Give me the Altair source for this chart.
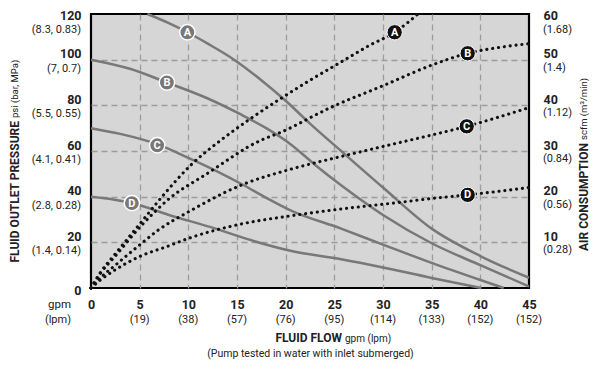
import altair as alt
import pandas as pd

FONT = "Roboto, Liberation Sans, sans-serif"
TXT = "#222222"

# ---- axis ticks / labels ----
flow_ticks = [0, 5, 10, 15, 20, 25, 30, 35, 40, 45]
flow_sub_vals = [5, 10, 15, 20, 25, 30, 35, 40, 45]
flow_sub_txt = ["(19)", "(38)", "(57)", "(76)", "(95)", "(114)", "(133)", "(152)", "(152)"]
psi_ticks = [0, 20, 40, 60, 80, 100, 120]
psi_sub_vals = [20, 40, 60, 80, 100, 120]
psi_sub_txt = ["(1.4, 0.14)", "(2.8, 0.28)", "(4.1, 0.41)", "(5.5, 0.55)", "(7, 0.7)", "(8.3, 0.83)"]
scfm_ticks = [10, 20, 30, 40, 50, 60]
scfm_sub_txt = ["(0.28)", "(0.56)", "(0.84)", "(1.12)", "(1.4)", "(1.68)"]

# ---- fluid outlet pressure curves (psi vs gpm) ----
pA_gpm = [5.8, 8, 9.9, 12, 14.7, 17.5, 20, 22.5, 25.7, 30, 35, 40, 45]
pA_psi = [120, 116, 112, 107, 100, 91, 82, 72, 60, 44, 26, 14, 4.5]
pB_gpm = [0, 4, 7.8, 12, 15.4, 18, 20.5, 23, 25.7, 30, 35, 40, 45]
pB_psi = [100, 96, 90, 83, 76, 70, 63, 54, 45, 32, 19.6, 10, 0.7]
pC_gpm = [0, 3, 6.8, 10, 13, 15.7, 18, 20.5, 25.7, 30, 35, 40, 42.4]
pC_psi = [70, 67.5, 63, 57, 51, 45, 39.5, 34, 26, 19, 11, 3.5, 0]
pD_gpm = [0, 2, 4.2, 8, 12.8, 16, 20.5, 25.7, 30, 35, 40.1]
pD_psi = [40, 39, 37.2, 32, 26, 21.5, 16.3, 12.6, 9, 4.4, 0]

# ---- air consumption curves (scfm vs gpm) ----
aA_gpm = [0, 1, 2.5, 5, 7.5, 10.2, 13.3, 16, 19.5, 22.5, 25.7, 28.5, 31.2, 33.6]
aA_scfm = [0, 3.5, 7.5, 14, 20.5, 26.8, 32.3, 36.5, 41.5, 45.5, 49.5, 53, 56, 60]
aB_gpm = [0, 1, 2.5, 5.1, 8, 11.9, 17.4, 19.5, 24.7, 30, 35, 38.7, 42, 45]
aB_scfm = [0, 3.3, 7, 13.5, 19.5, 25, 32.3, 34.1, 39.6, 44.3, 48.8, 51.4, 52.7, 53.5]
aC_gpm = [0, 1, 2.5, 5.1, 6.8, 10.2, 15.4, 20.5, 25.7, 30, 35, 38.6, 42, 45]
aC_scfm = [0, 2.3, 5, 9.6, 12.5, 16.9, 22.5, 26, 28.8, 31, 33.5, 35.4, 37.5, 39.5]
aD_gpm = [0, 1, 2.5, 5.1, 7.7, 10.2, 15.4, 20.5, 25.7, 31.5, 35, 38.7, 42, 45]
aD_scfm = [0, 1.8, 4, 7, 9, 11, 14, 15.8, 17.3, 18.7, 19.6, 20.4, 21.2, 22]

curve_names = ["A", "B", "C", "D"]
press_lab_gpm = [9.9, 7.8, 6.8, 4.2]
press_lab_psi = [112, 90, 62.5, 37.2]
air_lab_gpm = [31.2, 38.7, 38.6, 38.7]
air_lab_scfm = [56, 51.4, 35.4, 20.4]

left_title_bold = "FLUID OUTLET PRESSURE"
left_title_light = "psi (bar, MPa)"
right_title_bold = "AIR CONSUMPTION"
right_title_light = "scfm (m\u00b3/min)"
bottom_title_bold = "FLUID FLOW"
bottom_title_light = "gpm (lpm)"
bottom_note = "(Pump tested in water with inlet submerged)"
unit_top = "gpm"
unit_bottom = "(lpm)"

W, H = 438, 274

# ---- tables ----
def long(names, xs, ys, yname):
    rows = []
    for n, xv, yv in zip(names, xs, ys):
        for a, b in zip(xv, yv):
            rows.append({"curve": n, "gpm": a, yname: b})
    return pd.DataFrame(rows)

press_df = long(curve_names, [pA_gpm, pB_gpm, pC_gpm, pD_gpm],
                [pA_psi, pB_psi, pC_psi, pD_psi], "psi")
air_df = long(curve_names, [aA_gpm, aB_gpm, aC_gpm, aD_gpm],
              [aA_scfm, aB_scfm, aC_scfm, aD_scfm], "scfm")
press_lab_df = pd.DataFrame({"curve": curve_names, "gpm": press_lab_gpm, "psi": press_lab_psi})
air_lab_df = pd.DataFrame({"curve": curve_names, "gpm": air_lab_gpm, "scfm": air_lab_scfm})
psi_sub_df = pd.DataFrame({"psi": psi_sub_vals, "t": psi_sub_txt})
scfm_sub_df = pd.DataFrame({"scfm": scfm_ticks, "t": scfm_sub_txt})
flow_sub_df = pd.DataFrame({"gpm": flow_sub_vals, "t": flow_sub_txt})

xscale = alt.Scale(domain=[0, 45], nice=False, zero=False)
yP = alt.Scale(domain=[0, 120], nice=False)
yA = alt.Scale(domain=[0, 60], nice=False)

GRID = dict(grid=True, gridColor="#9c9c9c", gridDash=[6, 4], gridWidth=1.3)
NUM = dict(labelFont=FONT, labelFontWeight="bold", labelFontSize=12.5, labelColor=TXT,
           labelFlush=False, labelOverlap=False)

x_axis = alt.Axis(
    values=flow_ticks, title=None, ticks=False, domain=False, **NUM,
    labelPadding=16, labelBaseline="middle",
    gridOpacity={"condition": {"test": "datum.value == 0 || datum.value == 45", "value": 0}, "value": 1},
    **GRID,
)
y_left_axis = alt.Axis(
    orient="left", values=psi_ticks, title=None, ticks=False, domain=False, **NUM,
    labelPadding=10, labelBaseline="alphabetic",
    labelOffset={"condition": [{"test": "datum.value == 0", "value": 6},
                               {"test": "datum.value == 120", "value": 5.5}], "value": -2},
    gridOpacity={"condition": {"test": "datum.value == 0 || datum.value == 120", "value": 0}, "value": 1},
    **GRID,
)
y_right_axis = alt.Axis(
    orient="right", values=scfm_ticks, title=None, ticks=False, domain=False, grid=False, **NUM,
    labelPadding=14, labelBaseline="alphabetic", labelAlign="left",
    labelOffset={"condition": {"test": "datum.value == 60", "value": 5.5}, "value": -2},
)

def X():
    return alt.X("gpm:Q", scale=xscale, axis=x_axis)

press_lines = alt.Chart(press_df).mark_line(
    color="#787878", strokeWidth=2.5, interpolate="monotone"
).encode(x=X(), y=alt.Y("psi:Q", scale=yP, axis=y_left_axis), detail="curve:N")

air_lines = alt.Chart(air_df).mark_line(
    color="#111111", strokeWidth=3.1, strokeDash=[0.1, 5.8], strokeCap="round", interpolate="monotone"
).encode(x=X(), y=alt.Y("scfm:Q", scale=yA, axis=y_right_axis), detail="curve:N")

press_dot = alt.Chart(press_lab_df).mark_circle(
    size=235, color="#787878", opacity=1, stroke="white", strokeWidth=1.5
).encode(x=X(), y=alt.Y("psi:Q", scale=yP, axis=None))
press_txt = alt.Chart(press_lab_df).mark_text(
    color="white", font=FONT, fontWeight="bold", fontSize=11, baseline="middle", dy=0.5
).encode(x=X(), y=alt.Y("psi:Q", scale=yP, axis=None), text="curve:N")

air_dot = alt.Chart(air_lab_df).mark_circle(
    size=235, color="#111111", opacity=1, stroke="white", strokeWidth=1
).encode(x=X(), y=alt.Y("scfm:Q", scale=yA, axis=None))
air_txt = alt.Chart(air_lab_df).mark_text(
    color="white", font=FONT, fontWeight="bold", fontSize=11, baseline="middle", dy=0.5
).encode(x=X(), y=alt.Y("scfm:Q", scale=yA, axis=None), text="curve:N")

psi_sub = alt.Chart(psi_sub_df).transform_filter("datum.psi < 120").mark_text(
    font=FONT, fontSize=11, color=TXT, align="right", baseline="middle", dy=9
).encode(x=alt.value(-10), y=alt.Y("psi:Q", scale=yP, axis=None), text="t:N")
psi_sub_top = alt.Chart(psi_sub_df).transform_filter("datum.psi == 120").mark_text(
    font=FONT, fontSize=11, color=TXT, align="right", baseline="middle", dy=15.5
).encode(x=alt.value(-10), y=alt.Y("psi:Q", scale=yP, axis=None), text="t:N")

scfm_sub = alt.Chart(scfm_sub_df).transform_filter("datum.scfm < 60").mark_text(
    font=FONT, fontSize=11, color=TXT, align="left", baseline="middle", dy=8
).encode(x=alt.value(W + 14), y=alt.Y("scfm:Q", scale=yA, axis=None), text="t:N")
scfm_sub_top = alt.Chart(scfm_sub_df).transform_filter("datum.scfm == 60").mark_text(
    font=FONT, fontSize=11, color=TXT, align="left", baseline="middle", dy=15.5
).encode(x=alt.value(W + 14), y=alt.Y("scfm:Q", scale=yA, axis=None), text="t:N")

flow_sub = alt.Chart(flow_sub_df).mark_text(
    font=FONT, fontSize=11, color=TXT, align="center", baseline="middle"
).encode(x=X(), y=alt.value(H + 31.5), text="t:N")


def label(txt, x, y, bold, align, angle=0, size=12):
    return alt.Chart(pd.DataFrame({"t": [txt]})).mark_text(
        font=FONT, fontSize=size, color=TXT, fontWeight="bold" if bold else "normal",
        align=align, baseline="middle", angle=angle,
    ).encode(x=alt.value(x), y=alt.value(y), text="t:N")

texts = [
    label(unit_top, -20, H + 16.5, False, "right", 0, 11.5),
    label(unit_bottom, -20, H + 31.5, False, "right", 0, 11),
    label(left_title_bold, -76, 107, True, "right", 270, 12),
    label(left_title_light, -76, 104, False, "left", 270, 9.5),
    label(right_title_bold, 493, 129, True, "right", 270, 12),
    label(right_title_light, 493, 126, False, "left", 270, 9.5),
    label(bottom_title_bold, 251, 324, True, "right", 0, 12),
    label(bottom_title_light, 254, 324.5, False, "left", 0, 10),
    label(bottom_note, 219.5, 340, False, "center", 0, 10.5),
]

chart = alt.layer(
    press_lines, air_lines, press_dot, press_txt, air_dot, air_txt,
    psi_sub, psi_sub_top, scfm_sub, scfm_sub_top, flow_sub, *texts,
).resolve_scale(y="independent").properties(
    width=W, height=H, autosize="none",
    padding={"left": 83, "top": 6, "right": 63, "bottom": 76},
).configure_view(fill="#d6d6d6", stroke="#000000", strokeWidth=2.2)

chart.save("out.html", embed_options={"renderer": "svg", "actions": False})
